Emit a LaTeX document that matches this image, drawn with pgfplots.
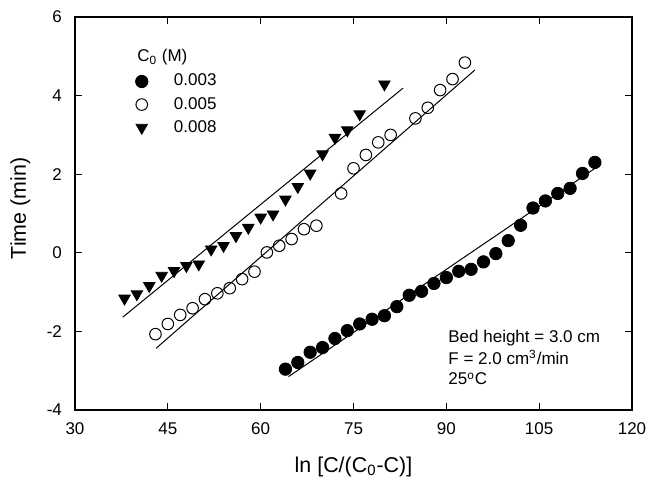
\documentclass[border=0pt]{standalone}
\usepackage{fontspec}
\setmainfont{Liberation Sans}
\usepackage{pgfplots}
\pgfplotsset{compat=1.18}
\begin{document}
\begin{tikzpicture}
\begin{axis}[
  scale only axis, width=278.5pt, height=196.5pt,
  xmin=30, xmax=120, ymin=-4, ymax=6,
  xtick={30,45,...,120}, ytick={-4,-2,...,6},
  tick align=inside, major tick length=3.5pt,
  xtick pos=both, ytick pos=both,
  ticklabel style={font=\fontsize{8.5}{10}\selectfont},
  xticklabel style={yshift=-3pt},
  yticklabel style={xshift=-3pt},
  /pgf/number format/assume math mode=true,
  axis line style={line width=0.6pt},
  every tick/.style={line width=0.5pt, black},
  xlabel={ln [C/(C\textsubscript{0}-C)]},
  ylabel={Time (min)},
  label style={font=\fontsize{10.7}{13}\selectfont},
  xlabel style={at={(axis description cs:0.5,-0.158)}, anchor=base},
  ylabel style={at={(axis description cs:-0.088,0.513)}, anchor=base},
  legend style={at={(rel axis cs:0.108,0.866)}, anchor=north west, draw=none, fill=none,
    font=\fontsize{8.5}{10}\selectfont, inner sep=0pt, row sep=0.1pt,
    /tikz/every odd column/.append style={column sep=11pt}},
  legend cell align=left,
]
\addplot[only marks, mark=*, mark size=3.1pt, mark options={fill=black, draw=black}] coordinates {
(64,-2.96) (66,-2.79) (68,-2.53) (70,-2.41) (72,-2.18) (74,-1.98) (76,-1.81) (78,-1.69)
(80,-1.60) (82,-1.37) (84,-1.08) (86,-0.98) (88,-0.78) (90,-0.63) (92,-0.47) (94,-0.42)
(96,-0.23) (98,-0.02) (100,0.31) (102,0.70) (104,1.14) (106,1.32) (108,1.51) (110,1.64)
(112,2.02) (114,2.30)};
\addlegendentry{0.003}
\addplot[only marks, mark=o, mark size=2.9pt, mark options={draw=black, line width=0.5pt}] coordinates {
(43,-2.07) (45,-1.81) (47,-1.58) (49,-1.41) (51,-1.18) (53,-1.03) (55,-0.90) (57,-0.67)
(59,-0.48) (61,0.01) (63,0.18) (65,0.35) (67,0.60) (69,0.69) (73,1.51) (75,2.15)
(77,2.49) (79,2.81) (81,3.00) (85,3.42) (87,3.69) (89,4.14) (91,4.42) (93,4.84)};
\addlegendentry{0.005}
\addplot[only marks, mark=triangle*, mark size=3.3pt, mark options={fill=black, draw=black, rotate=180}] coordinates {
(38,-1.16) (40,-1.05) (42,-0.84) (44,-0.58) (46,-0.46) (48,-0.33) (50,-0.29) (52,0.09)
(54,0.18) (56,0.43) (58,0.64) (60,0.90) (62,0.98) (64,1.36) (66,1.68) (68,2.02)
(70,2.51) (72,2.93) (74,3.12) (76,3.53) (80,4.29)};
\addlegendentry{0.008}
\addplot[black, line width=0.5pt, forget plot] coordinates {(64.5,-3.15) (114.4,2.19)};
\addplot[black, line width=0.5pt, forget plot] coordinates {(43.1,-2.43) (94.6,4.65)};
\addplot[black, line width=0.5pt, forget plot] coordinates {(37.7,-1.64) (83.0,4.19)};
\node[anchor=base west, inner sep=0pt, font=\fontsize{8.5}{10}\selectfont] at (axis cs:40.0,4.86) {C\textsubscript{0} (M)};
\node[anchor=base west, inner sep=0pt, font=\fontsize{8.5}{10}\selectfont] at (axis cs:90.27,-2.27) {Bed height = 3.0 cm};
\node[anchor=base west, inner sep=0pt, font=\fontsize{8.5}{10}\selectfont] at (axis cs:90.27,-2.83) {F = 2.0 cm\textsuperscript{3}/min};
\node[anchor=base west, inner sep=0pt, font=\fontsize{8.5}{10}\selectfont] at (axis cs:90.27,-3.36) {25\textsuperscript{o}C};
\end{axis}
\pgfresetboundingbox
\path ([shift={(-37.5pt,-34.5pt)}]current axis.south west) rectangle ([shift={(8pt,8.5pt)}]current axis.north east);
\end{tikzpicture}
\end{document}
